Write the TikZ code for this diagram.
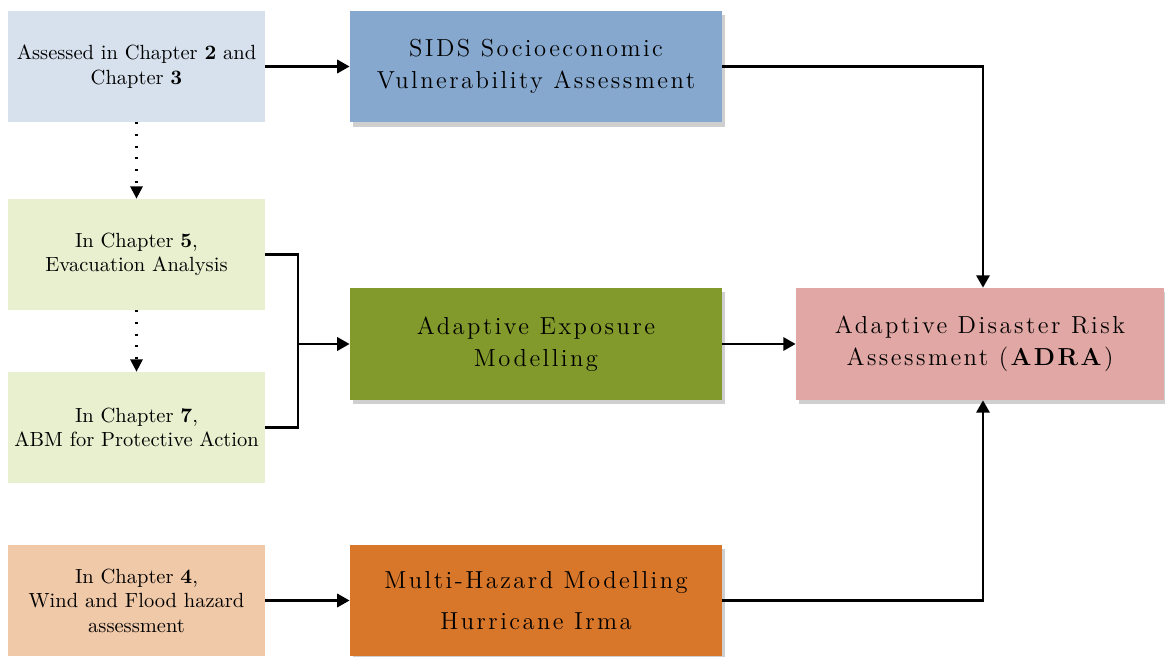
\documentclass[tikz,border=0pt]{standalone}
\usepackage{fontspec}
\setmainfont{Latin Modern Roman}
\newfontfamily\spacedfont[LetterSpace=10]{Latin Modern Roman}
\usetikzlibrary{arrows.meta,shadows,calc}
\definecolor{cLa}{HTML}{D6E1ED}
\definecolor{cLb}{HTML}{E8F0CF}
\definecolor{cLd}{HTML}{F0C9A9}
\definecolor{cMa}{HTML}{86A8CE}
\definecolor{cMb}{HTML}{829A2B}
\definecolor{cMc}{HTML}{D8772A}
\definecolor{cR}{HTML}{E0A7A4}
\definecolor{cShadow}{HTML}{CFCFCF}
\begin{document}
\begin{tikzpicture}[x=0.4878pt,y=-0.4878pt,
  srcbox/.style={inner sep=0pt, minimum width=125.4pt, minimum height=54.1pt, align=center, font=\normalsize},
  midbox/.style={inner sep=0pt, minimum width=181.5pt, minimum height=54.6pt, align=center,
     font=\fontsize{12}{15.6}\spacedfont,
     drop shadow={shadow xshift=1.6pt, shadow yshift=-2pt, fill=cShadow, opacity=1}},
  conn/.style={line width=1.1pt, -{Triangle[length=6pt,width=6.5pt]}},
  plain/.style={line width=1.1pt},
  dotconn/.style={line width=1.1pt, dash pattern=on 1pt off 4.7pt, -{Triangle[length=6pt,width=6pt]}}]
\useasboundingbox (0,0) rectangle (1165,657);
% left column
\node[srcbox, fill=cLa] (La) at (136.5,66.5) {Assessed in Chapter \textbf{2} and\\Chapter \textbf{3}};
\node[srcbox, fill=cLb] (Lb) at (136.5,254.5) {In Chapter \textbf{5},\\Evacuation Analysis};
\node[srcbox, fill=cLb] (Lc) at (136.5,427.5) {In Chapter \textbf{7},\\ABM for Protective Action};
\node[srcbox, fill=cLd] (Ld) at (136.5,600.5) {In Chapter \textbf{4},\\Wind and Flood hazard\\assessment};
% middle column
\node[midbox, fill=cMa] (Ma) at (536,66.5) {SIDS Socioeconomic\\Vulnerability Assessment};
\node[midbox, fill=cMb] (Mb) at (536,344) {Adaptive Exposure\\Modelling};
\node[midbox, fill=cMc] (Mc) at (536,600.5) {Multi-Hazard Modelling\\[4pt]Hurricane Irma};
% right
\node[midbox, fill=cR, minimum width=179.5pt] (R) at (980,344) {Adaptive Disaster Risk\\Assessment (\textbf{ADRA})};
% connectors
\coordinate (ja) at (298,344);
\coordinate (ka) at (983,66.5);
\coordinate (kc) at (983,600.5);
\draw[conn] (La.east) -- (Ma.west);
\draw[dotconn] (La.south) -- (Lb.north);
\draw[dotconn] (Lb.south) -- (Lc.north);
\draw[plain] (Lb.east) -| (ja);
\draw[plain] (Lc.east) -| (ja);
\draw[conn] (ja) -- (Mb.west);
\draw[conn] (Ld.east) -- (Mc.west);
\draw[conn] (Ma.east) -- (ka) -- (ka |- R.north);
\draw[conn] (Mb.east) -- (R.west);
\draw[conn] (Mc.east) -- (kc) -- (kc |- R.south);
\end{tikzpicture}
\end{document}
